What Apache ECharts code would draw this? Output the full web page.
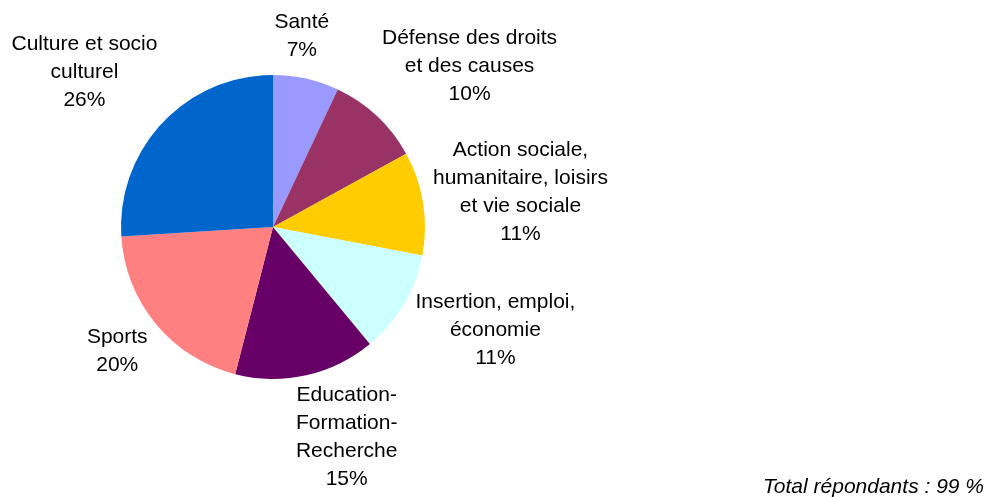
<!DOCTYPE html>
<html>
<head>
<meta charset="utf-8">
<script src="https://cdn.jsdelivr.net/npm/echarts@6/dist/echarts.min.js"></script>
<style>
  html, body { margin: 0; padding: 0; background: #fff; }
  #chart { width: 987px; height: 497px; }
</style>
</head>
<body>
<div id="chart"></div>
<script>
// Domaines d'activité des associations (part des répondants, %)
const categories = [
  'Santé',
  'Défense des droits\net des causes',
  'Action sociale,\nhumanitaire, loisirs\net vie sociale',
  'Insertion, emploi,\néconomie',
  'Education-\nFormation-\nRecherche',
  'Sports',
  'Culture et socio\nculturel'
];
const shares = [7, 10, 11, 11, 15, 20, 26];
const sliceColors = ['#9999FF', '#993366', '#FFCC00', '#CCFFFF', '#660066', '#FF8080', '#0066CC'];
const footnote = 'Total répondants : 99 %';

// Pie geometry and label placement (distance from centre, angular nudge in degrees)
const pieCenter = [273, 227];
const pieRadius = 152;
const labelDist = [193, 254, 250, 245, 223, 199, 244];
const labelTurn = [-4, 7.5, 0.9, -5.8, -6.7, 1.1, -3.8];

const total = shares.reduce((a, b) => a + b, 0);
const midAngles = [];
let acc = 0;
shares.forEach(v => {
  midAngles.push((acc + v / 2) / total * 360);
  acc += v;
});

const chart = echarts.init(document.getElementById('chart'), null, { renderer: 'canvas' });
chart.setOption({
  animation: false,
  backgroundColor: '#ffffff',
  textStyle: { fontFamily: 'Liberation Sans, Arial, sans-serif' },
  series: [{
    type: 'pie',
    center: pieCenter,
    radius: [0, pieRadius],
    startAngle: 90,
    clockwise: true,
    avoidLabelOverlap: false,
    silent: true,
    itemStyle: { borderWidth: 0 },
    emphasis: { disabled: true },
    label: {
      show: true,
      position: 'inside',
      formatter: '{b}\n{c}%',
      color: '#000',
      fontSize: 21,
      lineHeight: 28,
      fontFamily: 'Liberation Sans, Arial, sans-serif',
      align: 'center'
    },
    labelLine: { show: false },
    labelLayout: function (params) {
      const i = params.dataIndex;
      const a = (midAngles[i] + labelTurn[i]) * Math.PI / 180;
      return {
        x: pieCenter[0] + labelDist[i] * Math.sin(a),
        y: pieCenter[1] - labelDist[i] * Math.cos(a),
        align: 'center',
        verticalAlign: 'middle'
      };
    },
    data: categories.map((name, i) => ({
      name: name,
      value: shares[i],
      itemStyle: { color: sliceColors[i] }
    }))
  }],
  graphic: [{
    type: 'text',
    right: 3,
    top: 477,
    style: {
      text: footnote,
      fill: '#000',
      font: 'italic 21px "Liberation Sans", Arial, sans-serif'
    }
  }]
});
</script>
</body>
</html>
